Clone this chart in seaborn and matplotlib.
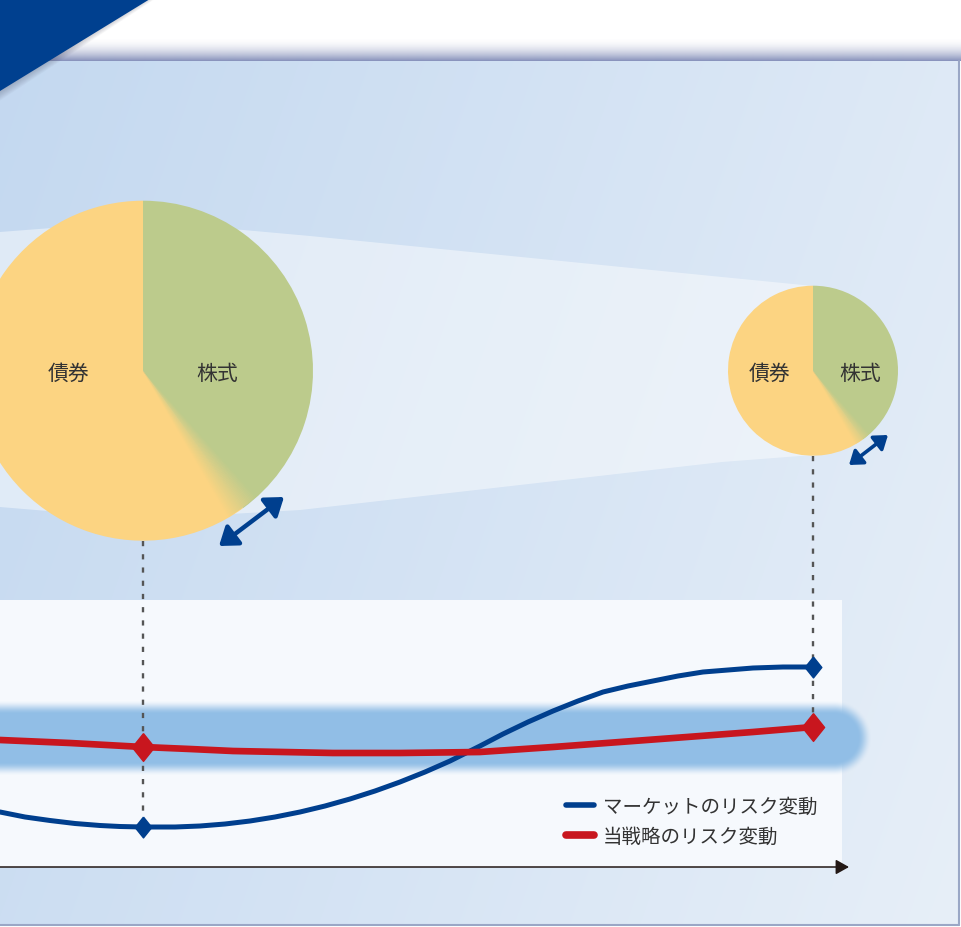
import numpy as np
import pandas as pd
import matplotlib
matplotlib.use("Agg")
import matplotlib.pyplot as plt
import seaborn as sns
from matplotlib.patches import Polygon, Rectangle, Wedge, FancyArrowPatch
from matplotlib.lines import Line2D
from matplotlib.colors import to_rgb

sns.set_theme(style="white")
plt.rcParams['font.family'] = ['Noto Sans CJK JP', 'DejaVu Sans']

W, H = 961, 928

# --- data ---
asset_labels = ["株式", "債券"]
alloc_before = [40, 60]
alloc_after = [40, 60]

series_names = ["マーケットのリスク変動", "当戦略のリスク変動"]
market_t = [0, 25, 50, 75, 100, 120, 143, 175, 200, 225, 250, 275, 300, 325,
            350, 375, 400, 425, 450, 480, 503, 528, 553, 578, 603, 628, 653,
            678, 703, 728, 753, 783, 813]
market_risk = [55, 50, 46.5, 43.5, 41.5, 40.5, 40, 40, 41, 43, 46, 50, 55, 61,
               68, 76, 85, 95, 106, 121, 133, 145, 156, 166, 175, 181, 186,
               191, 195, 197, 199, 200, 200]
strategy_t = [0, 70, 143, 190, 233, 283, 333, 400, 480, 553, 620, 687, 753, 813]
strategy_risk = [127, 124, 120, 118, 116, 115, 114, 114, 115, 120, 125, 130, 135, 140]
marked_t = [143, 813]

blue = "#003f8e"
red = "#c8161e"
green = "#bccb8c"
yellow = "#fcd482"
text_col = "#333333"

fig = plt.figure(figsize=(W / 100, H / 100), dpi=100)
fig.patch.set_facecolor("white")

bg = fig.add_axes([0, 0, 1, 1])
bg.set_axis_off()

# panel gradient
px0, px1, py0, py1 = 0, 959, 62, 926
xs = np.arange(px0, px1) + 0.5
ys = np.arange(py0, py1) + 0.5
X, Y = np.meshgrid(xs, ys)
t = np.clip((X + 0.35 * Y) / (W + 0.35 * H), 0, 1)
c0 = np.array(to_rgb("#c3d8f0"))
c1 = np.array(to_rgb("#e7eff8"))
img = c0 + (c1 - c0) * t[..., None]
bg.imshow(img, extent=(px0, px1, H - py1, H - py0), origin="upper",
          aspect="auto", zorder=0, interpolation="bilinear")

# top shadow strip
sy = np.arange(38, 62) + 0.5
sh = np.zeros((len(sy), 2, 4))
sh[..., :3] = to_rgb("#6f7cae")
sh[..., 3] = (np.clip((sy - 38) / 24, 0, 1) ** 2 * 0.85)[:, None]
bg.imshow(sh, extent=(0, W, H - 62, H - 38), origin="upper", aspect="auto",
          zorder=1, interpolation="bilinear")

# borders
bg.plot([959, 959], [H - 62, H - 926], color="#9aa7c6", lw=1.5, zorder=1)
bg.plot([0, 959], [H - 926, H - 926], color="#9aa7c6", lw=1.5, zorder=1)

# light funnel between the two pies
funnel = [(0, 233), (143, 222), (310, 237), (511, 257), (722, 278), (813, 287),
          (813, 456), (722, 463), (511, 487), (300, 511), (143, 520), (0, 508)]
bg.add_patch(Polygon([(x, H - y) for x, y in funnel], closed=True,
                     facecolor="white", alpha=0.45, lw=0, zorder=1.5))

# top-left triangle with a soft shadow
for k in range(1, 9):
    bg.add_patch(Polygon([(0, H + 2), (150 + k, H + 2), (0, H - 92 - k * 1.2)],
                         closed=True, facecolor="#3a3a50", alpha=0.035, lw=0, zorder=4))
bg.add_patch(Polygon([(0, H), (150, H), (0, H - 92)], closed=True,
                     facecolor="#00408f", lw=0, zorder=5))

# pies
pie_centers = [(143, 371.7), (813, 371.7)]
pie_radii = [170, 85]
label_dx = [(74, -74), (47, -43)]
for alloc, (cx, cy), r, dxs in zip([alloc_before, alloc_after], pie_centers, pie_radii, label_dx):
    bg.pie(alloc, colors=[green, yellow], startangle=90, counterclock=False,
           center=(cx, H - cy), radius=r,
           wedgeprops=dict(linewidth=0, zorder=6))
    boundary = 90 - 360 * alloc[0] / sum(alloc)
    span, n = 12, 24
    g, y_ = np.array(to_rgb(green)), np.array(to_rgb(yellow))
    for k in range(n):
        a0 = boundary - span / 2 + k * span / n
        mix = (k + 0.5) / n
        col = y_ * (1 - mix) + g * mix
        bg.add_patch(Wedge((cx, H - cy), r * 0.995, a0, a0 + span / n + 0.2,
                           facecolor=col, edgecolor="none", lw=0, zorder=7))
    for lab, dx in zip(asset_labels, dxs):
        bg.text(cx + dx, H - cy - 2, lab, ha="center", va="center", fontsize=15,
                color=text_col, zorder=8)

# resize arrows
for (a, b), ms, lw in [(((219, 547), (284, 498)), 15, 3.2),
                       (((849, 466), (888, 436)), 11, 2.6)]:
    bg.add_patch(FancyArrowPatch((a[0], H - a[1]), (b[0], H - b[1]),
                                 arrowstyle="<|-|>,head_length=0.7,head_width=0.5",
                                 mutation_scale=ms, lw=lw, color=blue,
                                 shrinkA=0, shrinkB=0, zorder=8))

# chart panel
bg.add_patch(Rectangle((0, H - 868), 842, 267, facecolor="#f6f9fd", lw=0, zorder=2))

# blurred band
bx = np.arange(0, 900) + 0.5
by = np.arange(690, 790) + 0.5
BX, BY = np.meshgrid(bx, by)
dxp = np.clip(BX - 834, 0, None)
d = np.sqrt(dxp ** 2 + (BY - 739) ** 2)
a = np.clip((38 - d) / 14, 0, 1)
a = a * a * (3 - 2 * a)
band = np.zeros(BX.shape + (4,))
band[..., :3] = to_rgb("#92bee6")
band[..., 3] = a
bg.imshow(band, extent=(0, 900, H - 790, H - 690), origin="upper", aspect="auto",
          zorder=3, interpolation="bilinear")

bg.set_xlim(0, W)
bg.set_ylim(0, H)
bg.set_aspect("auto")

# --- line chart ---
ax = fig.add_axes([0, (H - 868) / H, 842 / W, 267 / H])
ax.set_xlim(0, 842)
ax.set_ylim(0, 267)
ax.set_axis_off()

df = pd.concat([
    pd.DataFrame({"t": market_t, "risk": market_risk, "series": series_names[0]}),
    pd.DataFrame({"t": strategy_t, "risk": strategy_risk, "series": series_names[1]}),
])
palette = {series_names[0]: blue, series_names[1]: red}
sizes = {series_names[0]: 3.6, series_names[1]: 4.8}
sns.lineplot(data=df, x="t", y="risk", hue="series", size="series",
             palette=palette, sizes=sizes, sort=False, legend=False, ax=ax,
             zorder=3)
for ln in ax.lines:
    ln.set_solid_joinstyle("round")

# dashed guides from the pies down to the marked points
to_bg = bg.transData.inverted()
for tm, (cx, cy), r in zip(marked_t, pie_centers, pie_radii):
    vals = [np.interp(tm, market_t, market_risk), np.interp(tm, strategy_t, strategy_risk)]
    low = to_bg.transform(ax.transData.transform((tm, min(vals))))
    bg.plot([low[0], low[0]], [H - cy - r, low[1]], color="#555555", lw=1.7,
            dashes=(2.2, 3.4), zorder=4)

diamond = [(0, 1), (0.8, 0), (0, -1), (-0.8, 0), (0, 1)]
for tm in marked_t:
    ax.plot(tm, np.interp(tm, market_t, market_risk), marker=diamond,
            markersize=15, color=blue, lw=0, zorder=5, clip_on=False)
    ax.plot(tm, np.interp(tm, strategy_t, strategy_risk), marker=diamond,
            markersize=20, color=red, lw=0, zorder=5, clip_on=False)

# time axis with arrow
ax.annotate("", xy=(849, 0), xytext=(0, 0), xycoords="data",
            arrowprops=dict(arrowstyle="-|>,head_length=0.8,head_width=0.45",
                            color="#231815", lw=1.1, mutation_scale=10,
                            shrinkA=0, shrinkB=0),
            annotation_clip=False)

handles = [Line2D([], [], color=blue, lw=4, solid_capstyle="round"),
           Line2D([], [], color=red, lw=5.5, solid_capstyle="round")]
ax.legend(handles, series_names, loc="center left",
          bbox_to_anchor=(566 / W, 1 - 822 / H), bbox_transform=fig.transFigure,
          frameon=False, fontsize=14, handlelength=1.45, handletextpad=0.45,
          labelspacing=0.45, borderpad=0, borderaxespad=0,
          labelcolor=text_col)

fig.savefig("out.png", dpi=100)
